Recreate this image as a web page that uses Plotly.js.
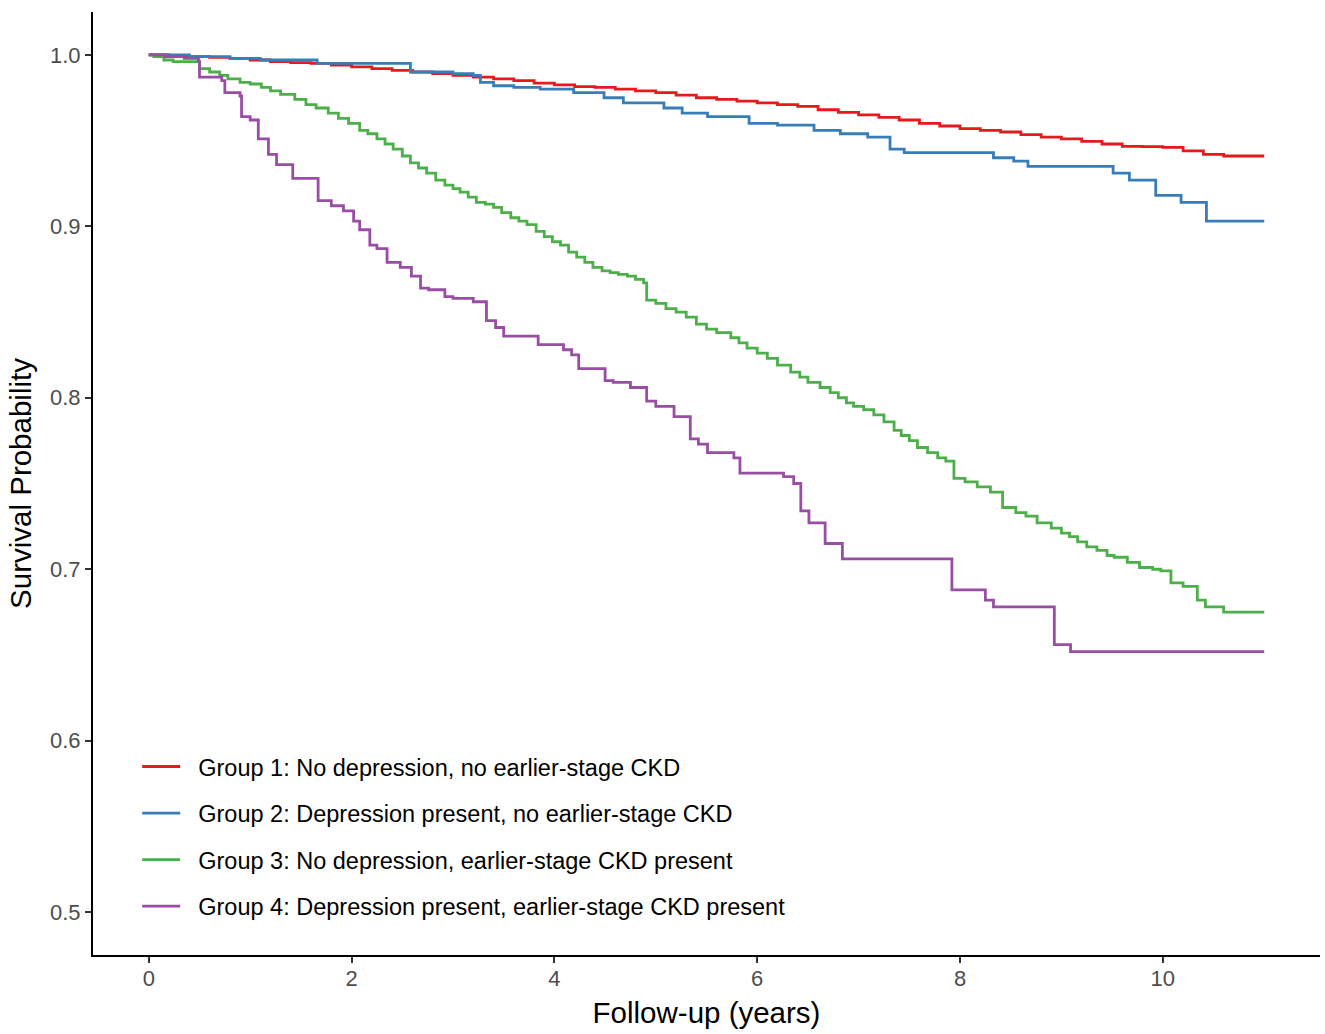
<!DOCTYPE html>
<html>
<head>
<meta charset="utf-8">
<script src="https://cdn.plot.ly/plotly-3.0.1.min.js"></script>
<style>html,body{margin:0;padding:0;background:#fff;}#chart{width:1325px;height:1034px;}</style>
</head>
<body>
<div id="chart"></div>
<script>
// Group labels
var groupNames = [
  "Group 1: No depression, no earlier-stage CKD",
  "Group 2: Depression present, no earlier-stage CKD",
  "Group 3: No depression, earlier-stage CKD present",
  "Group 4: Depression present, earlier-stage CKD present"
];
var groupColors = ["#E41A1C", "#377EB8", "#4DAF4A", "#984EA3"];

// Group 1
var g1Time = [0,0.2,0.4,0.6,0.8,1.0,1.2,1.4,1.6,1.8,2.0,2.2,2.4,2.6,2.8,3.0,3.2,3.4,3.6,3.8,4.0,4.2,4.4,4.6,4.8,5.0,5.2,5.4,5.6,5.8,6.0,6.2,6.4,6.6,6.8,7.0,7.2,7.4,7.6,7.8,8.0,8.2,8.4,8.6,8.8,9.0,9.2,9.4,9.6,9.8,10.0,10.2,10.4,10.6,11.0];
var g1Surv = [1.000,0.9995,0.999,0.9985,0.998,0.997,0.996,0.9955,0.995,0.994,0.993,0.992,0.991,0.990,0.989,0.988,0.987,0.986,0.985,0.9835,0.9825,0.9815,0.981,0.980,0.979,0.978,0.9765,0.975,0.974,0.973,0.972,0.971,0.970,0.968,0.9665,0.965,0.9635,0.962,0.960,0.9585,0.957,0.956,0.955,0.9535,0.952,0.951,0.9495,0.948,0.9466,0.9465,0.946,0.944,0.942,0.941,0.941];

// Group 2
var g2Time = [0,0.4,0.8,1.1,1.66,2.58,3.0,3.2,3.27,3.4,3.6,3.86,4.19,4.49,4.68,5.08,5.26,5.51,5.92,6.2,6.56,6.82,7.09,7.31,7.45,8.33,8.53,8.67,9.51,9.67,9.93,10.18,10.43,11.0];
var g2Surv = [1.000,0.999,0.998,0.997,0.995,0.990,0.989,0.988,0.984,0.982,0.981,0.980,0.978,0.975,0.972,0.969,0.966,0.964,0.960,0.959,0.956,0.954,0.952,0.945,0.943,0.940,0.938,0.935,0.931,0.927,0.918,0.914,0.903,0.903];

// Group 3
var g3Time = [0,0.05,0.15,0.24,0.5,0.6,0.7,0.78,0.9,1.0,1.11,1.2,1.3,1.44,1.55,1.65,1.77,1.87,1.97,2.08,2.16,2.25,2.33,2.41,2.5,2.58,2.66,2.74,2.83,2.92,3.0,3.07,3.15,3.23,3.32,3.4,3.48,3.57,3.65,3.73,3.82,3.9,3.98,4.06,4.14,4.22,4.3,4.38,4.47,4.55,4.63,4.72,4.8,4.88,4.91,5.0,5.1,5.2,5.3,5.4,5.5,5.6,5.74,5.82,5.9,6.0,6.1,6.2,6.33,6.42,6.5,6.62,6.72,6.8,6.88,6.95,7.05,7.15,7.25,7.35,7.42,7.5,7.58,7.68,7.78,7.86,7.94,8.05,8.17,8.3,8.42,8.55,8.65,8.76,8.9,9.0,9.08,9.16,9.25,9.35,9.45,9.52,9.65,9.77,9.9,9.98,10.08,10.2,10.34,10.42,10.6,11.0];
var g3Surv = [1.000,0.999,0.997,0.996,0.992,0.990,0.988,0.986,0.984,0.983,0.981,0.979,0.977,0.974,0.971,0.969,0.966,0.963,0.960,0.956,0.954,0.951,0.948,0.945,0.941,0.937,0.934,0.931,0.927,0.924,0.922,0.920,0.917,0.914,0.913,0.911,0.908,0.905,0.903,0.901,0.897,0.894,0.891,0.889,0.885,0.882,0.879,0.876,0.874,0.873,0.872,0.871,0.869,0.867,0.857,0.855,0.852,0.850,0.847,0.843,0.840,0.838,0.835,0.832,0.829,0.826,0.823,0.819,0.815,0.812,0.809,0.806,0.803,0.800,0.797,0.795,0.793,0.790,0.786,0.781,0.778,0.775,0.771,0.768,0.765,0.763,0.753,0.751,0.748,0.745,0.736,0.733,0.731,0.727,0.724,0.721,0.719,0.716,0.713,0.711,0.708,0.707,0.704,0.701,0.700,0.699,0.692,0.690,0.682,0.678,0.675,0.675];

// Group 4
var g4Time = [0,0.16,0.35,0.49,0.5,0.72,0.75,0.9,0.915,1.0,1.08,1.18,1.26,1.42,1.67,1.8,1.92,2.02,2.08,2.18,2.25,2.35,2.48,2.59,2.68,2.76,2.92,3.0,3.2,3.33,3.42,3.5,3.84,4.09,4.17,4.24,4.5,4.58,4.75,4.91,5.0,5.18,5.34,5.42,5.51,5.77,5.83,6.26,6.36,6.43,6.51,6.67,6.84,7.92,8.25,8.33,8.93,9.09,11.0];
var g4Surv = [1.000,0.999,0.998,0.996,0.987,0.985,0.978,0.976,0.964,0.962,0.951,0.942,0.936,0.928,0.915,0.912,0.909,0.903,0.898,0.889,0.887,0.879,0.876,0.871,0.864,0.863,0.859,0.858,0.856,0.845,0.841,0.836,0.831,0.828,0.825,0.817,0.810,0.809,0.806,0.798,0.795,0.789,0.776,0.773,0.768,0.765,0.756,0.754,0.750,0.734,0.727,0.715,0.706,0.688,0.682,0.678,0.656,0.652,0.652];

// Axis ticks
var xTicks = [0, 2, 4, 6, 8, 10];
var xTickLabels = ["0", "2", "4", "6", "8", "10"];
var yTicks = [0.5, 0.6, 0.7, 0.8, 0.9, 1.0];
var yTickLabels = ["0.5", "0.6", "0.7", "0.8", "0.9", "1.0"];

var times = [g1Time, g2Time, g3Time, g4Time];
var survs = [g1Surv, g2Surv, g3Surv, g4Surv];

var traces = groupNames.map(function (name, i) {
  return {
    x: times[i], y: survs[i], type: "scatter", mode: "lines",
    line: {shape: "hv", color: groupColors[i], width: 2.8},
    name: "\u00a0\u00a0" + name, legendgroup: "g" + i,
    hovertemplate: name + "<br>%{x}, %{y}<extra></extra>"
  };
});

var fontFam = "Liberation Sans, Arial, Helvetica, sans-serif";
var layout = {
  width: 1325, height: 1034,
  margin: {l: 93, r: 5, t: 12, b: 79},
  paper_bgcolor: "#ffffff", plot_bgcolor: "#ffffff",
  font: {family: fontFam, color: "#000000"},
  showlegend: true,
  legend: {
    x: 0.036, y: 0.223, xanchor: "left", yanchor: "top",
    bgcolor: "rgba(0,0,0,0)", borderwidth: 0,
    font: {size: 23.5, family: fontFam, color: "#000000"},
    traceorder: "grouped", tracegroupgap: 13, itemwidth: 38
  },
  xaxis: {
    range: [-0.55, 11.55], tickvals: xTicks, ticktext: xTickLabels,
    showgrid: false, zeroline: false, showline: true, linecolor: "#000000", linewidth: 2,
    ticks: "outside", ticklen: 6, tickwidth: 1.5, tickcolor: "#333333",
    tickfont: {size: 22, color: "#4D4D4D", family: fontFam},
    ticklabelstandoff: -3,
    title: {text: "Follow-up (years)", font: {size: 29.5, color: "#000000", family: fontFam}, standoff: 12},
    automargin: false
  },
  yaxis: {
    range: [0.475, 1.025], tickvals: yTicks, ticktext: yTickLabels,
    showgrid: false, zeroline: false, showline: true, linecolor: "#000000", linewidth: 2,
    ticks: "outside", ticklen: 6, tickwidth: 1.5, tickcolor: "#333333",
    tickfont: {size: 22, color: "#4D4D4D", family: fontFam},
    title: {text: "Survival Probability", font: {size: 29.5, color: "#000000", family: fontFam}, standoff: 10},
    automargin: false
  }
};

Plotly.newPlot("chart", traces, layout, {displayModeBar: false});
</script>
</body>
</html>
